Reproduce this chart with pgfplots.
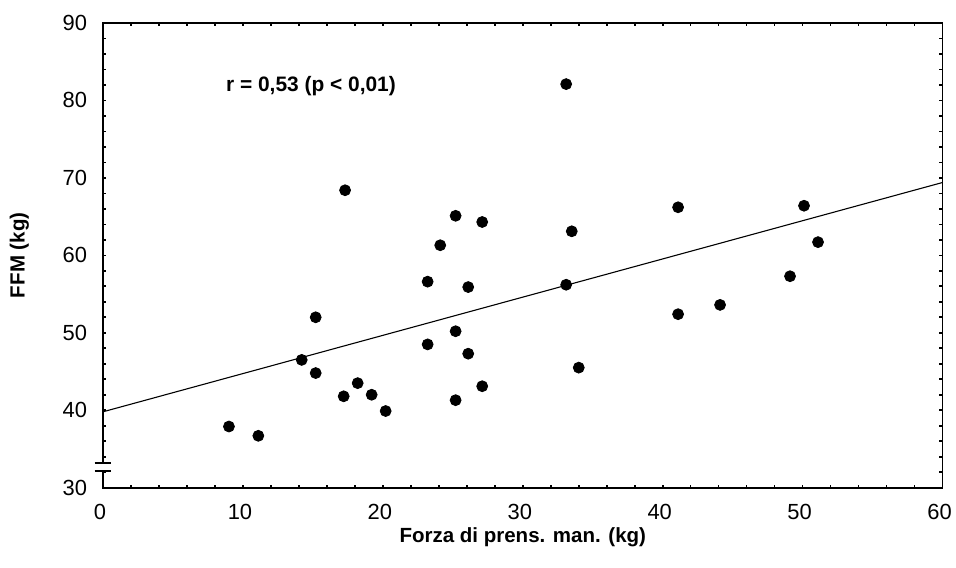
\documentclass[border=0pt]{standalone}
\usepackage{fontspec}
\setmainfont{Liberation Sans}
\usepackage{pgfplots}
\pgfplotsset{compat=1.18}

\begin{document}
\begin{tikzpicture}
\begin{axis}[
  at={(0,0)}, anchor=south west,
  scale only axis,
  width=421.75pt, height=233.5pt,
  xmin=0, xmax=60, ymin=30, ymax=90,
  xtick={0,10,...,60}, ytick={30,40,...,90},
  minor x tick num=4, minor y tick num=4,
  tick align=inside,
  major tick length=1.6pt, minor tick length=1.6pt,
  every tick/.style={black, line width=0.8pt},
  axis line style={line width=0.9pt},
  ticklabel style={font=\fontsize{11}{13}\selectfont},
  /pgf/number format/assume math mode=true,
  xticklabel style={yshift=-5pt, xshift=-1.5pt},
  yticklabel style={xshift=-4.5pt},
  xlabel={\bfseries Forza di prens. man. (kg)},
  ylabel={\bfseries FFM (kg)},
  label style={font=\fontsize{10.3}{12}\selectfont},
  xlabel style={at={(rel axis cs:0.5,0)}, anchor=center, yshift=-25pt},
  ylabel style={at={(rel axis cs:0,0.5)}, anchor=center, yshift=42pt},
  clip=false,
]
% regressione lineare
\addplot[black, line width=0.55pt] coordinates {(0,39.8) (60,69.4)};

\addplot[only marks, mark=*, mark size=2.75pt, black] coordinates {
  (9.0,37.9) (11.1,36.7) (14.2,46.5) (15.2,52.0) (15.2,44.8)
  (17.3,68.4) (17.2,41.8) (18.2,43.5) (19.2,42.0) (20.2,39.9)
  (23.2,56.6) (23.2,48.5) (24.1,61.3) (25.2,65.1) (25.2,50.2)
  (25.2,41.3) (26.1,55.9) (26.1,47.3) (27.1,64.3) (27.1,43.1)
  (33.1,82.1) (33.5,63.1) (33.1,56.2) (34.0,45.5) (41.1,66.2)
  (41.1,52.4) (44.1,53.6) (49.1,57.3) (50.1,66.4) (51.1,61.7)
};

\node[anchor=west, font=\fontsize{10.5}{12}\selectfont\bfseries] at (axis cs:8.3,81.8) {r = 0,53 (p < 0,01)};

\coordinate (b1) at (axis cs:0,33.2);
\coordinate (b2) at (axis cs:0,32.2);
\end{axis}
% interruzione dell'asse y
\draw[white, line width=3pt] (b1) -- (b2);
\draw[black, line width=0.9pt] ([xshift=-4.25pt]b1) -- ([xshift=4.25pt]b1);
\draw[black, line width=0.9pt] ([xshift=-4.25pt]b2) -- ([xshift=4.25pt]b2);
\pgfresetboundingbox
\path[use as bounding box] (-51.75pt,-40pt) rectangle (428.5pt,245pt);
\end{tikzpicture}
\end{document}
